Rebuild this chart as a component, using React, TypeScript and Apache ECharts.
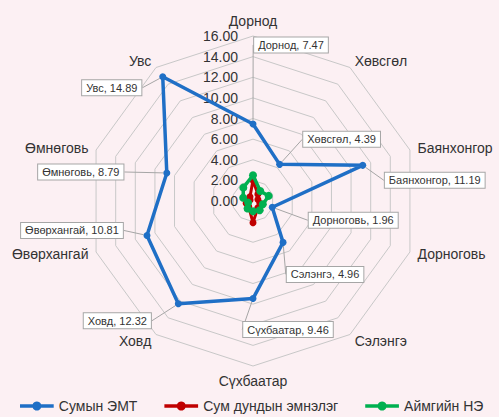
import { useEffect, useRef } from 'react';
import * as echarts from 'echarts';

// Categories in clockwise order starting at the top
const categories = ['Дорнод', 'Хөвсгөл', 'Баянхонгор', 'Дорноговь', 'Сэлэнгэ', 'Сүхбаатар', 'Ховд', 'Өвөрхангай', 'Өмнөговь', 'Увс'];
const sumynEmt = [7.47, 4.39, 11.19, 1.96, 4.96, 9.46, 12.32, 10.81, 8.79, 14.89];
const sumDundyn = [2.0, 0.8, 0.5, 0.7, 0.8, 2.1, 0.7, 0.7, 0.3, 0.5];
const aimgiin = [2.5, 1.2, 1.6, 1.0, 1.1, 1.0, 0.9, 0.5, 1.0, 1.6];
const seriesNames = ['Сумын ЭМТ', 'Сум дундын эмнэлэг', 'Аймгийн НЭ'];
const axisMin = 0;
const axisMax = 16;
const splitCount = 8;

// label box offsets (styling) relative to the point
const labelOffsets: Record<string, [number, number]> = {
  'Дорнод': [38, -79],
  'Хөвсгөл': [62, -25],
  'Баянхонгор': [72, 15],
  'Дорноговь': [81, 13],
  'Сэлэнгэ': [42, 32],
  'Сүхбаатар': [35, 31],
  'Ховд': [-61, 17],
  'Өвөрхангай': [-75, -5],
  'Өмнөговь': [-86, -1],
  'Увс': [-51, 11],
};

const FONT = '"Liberation Sans", Arial, sans-serif';
const COLORS = ['#1F6FC6', '#C00000', '#00B050'];

// ECharts radar runs counter-clockwise; reorder to clockwise
const order = categories.map((_, i) => (i === 0 ? 0 : categories.length - i));
const reorder = (arr: number[]) => order.map((i) => arr[i]);

const legendIcon =
  'path://M0,2.5H11.29A4,4 0 0 1 18.71,2.5H30V5.5H18.71A4,4 0 0 1 11.29,5.5H0Z';

export default function App() {
  const ref = useRef<HTMLDivElement>(null);
  useEffect(() => {
    if (!ref.current) return;
    const chart = echarts.init(ref.current, undefined, { renderer: 'svg' });
    const indicator = order.map((i, k) => {
      const base: any = { name: categories[i], min: axisMin, max: axisMax };
      if (k === 0) {
        base.axisLabel = {
          show: true,
          color: '#333',
          fontSize: 14,
          fontFamily: FONT,
          margin: 15,
          formatter: (v: number) => v.toFixed(2),
        };
      }
      return base;
    });
    const ordered = [reorder(sumynEmt), reorder(sumDundyn), reorder(aimgiin)];
    const orderedNames = order.map((i) => categories[i]);
    chart.setOption({
      animation: false,
      backgroundColor: '#fcf0f3',
      textStyle: { fontFamily: FONT },
      legend: {
        data: seriesNames,
        left: 20,
        top: 399,
        padding: 0,
        itemGap: 27,
        itemWidth: 34,
        itemHeight: 9,
        icon: legendIcon,
        textStyle: { fontSize: 14, color: '#333', fontFamily: FONT },
      },
      radar: {
        center: [253, 201],
        radius: 165,
        startAngle: 90,
        shape: 'polygon',
        splitNumber: splitCount,
        indicator,
        nameGap: 8,
        axisName: { color: '#333', fontSize: 14, fontFamily: FONT },
        axisLine: { show: false },
        axisTick: { show: false },
        axisLabel: { show: false },
        splitLine: { lineStyle: { color: '#c8c8c8', width: 1 } },
        splitArea: { show: false },
      },
      series: [
        {
          type: 'radar',
          name: seriesNames[0],
          z: 2,
          symbol: 'circle',
          symbolSize: 7,
          lineStyle: { width: 3.5, color: COLORS[0] },
          itemStyle: { color: COLORS[0] },
          label: {
            show: true,
            position: 'inside',
            fontSize: 11,
            color: '#333',
            fontFamily: FONT,
            backgroundColor: '#ffffff',
            borderColor: '#a6a6a6',
            borderWidth: 1,
            padding: [2, 4],
            formatter: (p: any) => {
              const idx = p.dimensionIndex != null ? p.dimensionIndex : ordered[0].indexOf(p.value);
              return orderedNames[idx] + ', ' + Number(p.value).toFixed(2);
            },
          },
          labelLine: { show: true, lineStyle: { color: '#a6a6a6', width: 1 } },
          labelLayout: (params: any) => {
            const name = String(params.text).split(',')[0];
            const off = labelOffsets[name] || [0, 0];
            const r = params.rect;
            return {
              x: r.x + r.width / 2 + off[0],
              y: r.y + r.height / 2 + off[1],
              align: 'center',
              verticalAlign: 'middle',
            };
          },
          data: [{ name: seriesNames[0], value: ordered[0] }],
        },
        {
          type: 'radar',
          name: seriesNames[1],
          z: 3,
          symbol: 'circle',
          symbolSize: 7,
          lineStyle: { width: 3, color: COLORS[1] },
          itemStyle: { color: COLORS[1] },
          data: [{ name: seriesNames[1], value: ordered[1] }],
        },
        {
          type: 'radar',
          name: seriesNames[2],
          z: 4,
          symbol: 'circle',
          symbolSize: 8,
          lineStyle: { width: 3.5, color: COLORS[2] },
          itemStyle: { color: COLORS[2] },
          data: [{ name: seriesNames[2], value: ordered[2] }],
        },
      ],
    });
    return () => chart.dispose();
  }, []);
  return (
    <div
      ref={ref}
      style={{ position: 'fixed', left: 0, top: 0, width: 499, height: 417 }}
    />
  );
}
